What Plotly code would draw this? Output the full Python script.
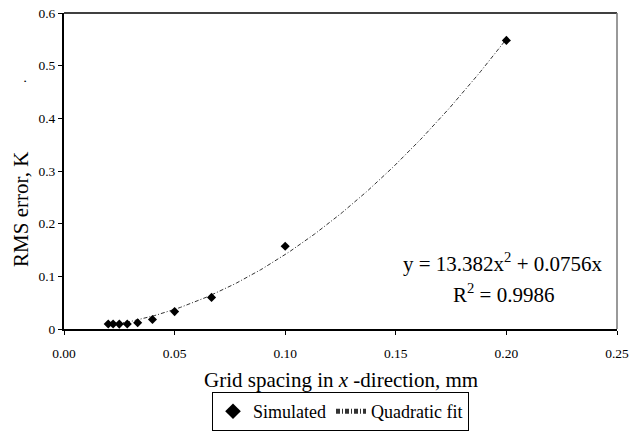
import numpy as np
import plotly.graph_objects as go

# Data
grid_spacing = [0.02, 0.0222, 0.025, 0.0286, 0.0333, 0.04, 0.05, 0.0667, 0.1, 0.2]
rms_error = [0.0095, 0.0095, 0.0093, 0.0095, 0.012, 0.018, 0.033, 0.060, 0.157, 0.548]
fit_a = 13.382
fit_b = 0.0756
fit_r2 = 0.9986
x_ticks = [0.0, 0.05, 0.10, 0.15, 0.20, 0.25]
x_tick_labels = ["0.00", "0.05", "0.10", "0.15", "0.20", "0.25"]
y_ticks = [0, 0.1, 0.2, 0.3, 0.4, 0.5, 0.6]
y_tick_labels = ["0", "0.1", "0.2", "0.3", "0.4", "0.5", "0.6"]

fit_x = np.linspace(min(grid_spacing), max(grid_spacing), 200)
fit_y = fit_a * fit_x**2 + fit_b * fit_x

FONT = "Liberation Serif, Times New Roman, serif"

fig = go.Figure()
fig.add_trace(go.Scatter(
    x=fit_x, y=fit_y, mode="lines", name="Quadratic fit",
    line=dict(color="#333", width=1, dash="4px,2px,1px,2px"),
    showlegend=False,
))
fig.add_trace(go.Scatter(
    x=grid_spacing, y=rms_error, mode="markers", name="Simulated",
    marker=dict(symbol="diamond", size=7, color="black"),
))
fig.add_trace(go.Scatter(
    x=[None], y=[None], mode="lines", name="Quadratic fit",
    line=dict(color="#333", width=1, dash="4px,2px,1px,2px"),
))

axis_common = dict(
    showgrid=False, zeroline=False, showline=True, linecolor="black", linewidth=2,
    mirror=False, ticks="outside", ticklen=4, tickcolor="black", tickwidth=1,
    tickfont=dict(family=FONT, size=13.5, color="black"),
    automargin=False, ticklabeloverflow="allow",
)

fig.update_layout(
    width=629, height=431,
    margin=dict(l=64, r=12, t=13, b=102),
    paper_bgcolor="white", plot_bgcolor="white",
    font=dict(family=FONT, color="black", size=14),
    showlegend=True,
    legend=dict(
        orientation="h", xref="paper", x=0.5, xanchor="center",
        yref="container", y=0.0, yanchor="bottom",
        bordercolor="black", borderwidth=1, bgcolor="white",
        font=dict(family=FONT, size=18, color="black"),
        tracegroupgap=0, itemsizing="constant",
    ),
    xaxis=dict(
        range=[0, 0.25], tickvals=x_ticks, ticktext=x_tick_labels,
        ticklabelstandoff=7,
        **axis_common,
    ),
    yaxis=dict(
        range=[0, 0.6], tickvals=y_ticks, ticktext=y_tick_labels,
        **axis_common,
    ),
)

# plot frame (top black, right grey)
fig.add_shape(type="line", xref="paper", yref="paper", x0=0, x1=1, y0=1, y1=1,
              line=dict(color="black", width=1.5))
fig.add_shape(type="line", xref="paper", yref="paper", x0=1, x1=1, y0=0, y1=1,
              line=dict(color="#777", width=1.5))

# axis titles
fig.add_annotation(
    x=0.5, y=-0.1614, xref="paper", yref="paper",
    text="Grid spacing in <i>x</i> -direction, mm",
    showarrow=False, xanchor="center", yanchor="middle",
    font=dict(family=FONT, size=21, color="black"),
)
fig.add_annotation(
    x=-0.0778, y=0.38, xref="paper", yref="paper", text="RMS error, K",
    textangle=-90, showarrow=False, xanchor="center", yanchor="middle",
    font=dict(family=FONT, size=21, color="black"),
)
fig.add_annotation(
    x=-0.076, y=0.785, xref="paper", yref="paper", text=".",
    textangle=-90, showarrow=False, xanchor="center", yanchor="middle",
    font=dict(family=FONT, size=14, color="black"),
)

# trendline equation
fig.add_annotation(
    x=0.1985, y=0.127, xref="x", yref="y",
    text=f"y = {fit_a}x<sup>2</sup> + {fit_b}x",
    showarrow=False, xanchor="center", yanchor="middle",
    font=dict(family=FONT, size=21, color="black"),
)
fig.add_annotation(
    x=0.1985, y=0.0683, xref="x", yref="y",
    text=f"R<sup>2</sup> = {fit_r2}",
    showarrow=False, xanchor="center", yanchor="middle",
    font=dict(family=FONT, size=21, color="black"),
)

fig.write_html("out.html")
